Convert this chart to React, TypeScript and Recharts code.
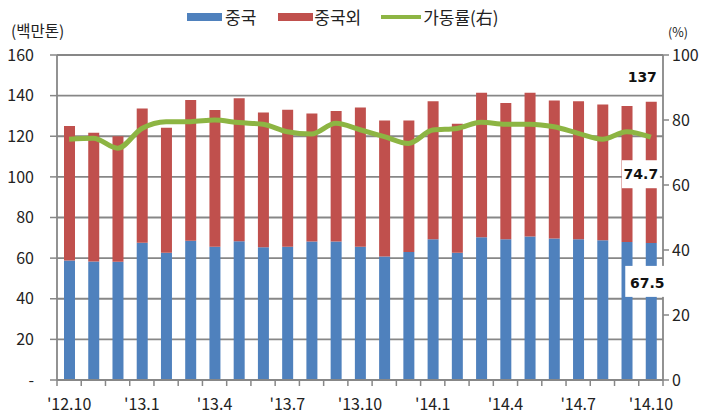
import React from 'react';
import { ComposedChart, Bar, Line, XAxis, YAxis, CartesianGrid, LabelList } from 'recharts';

const months = [
  "'12.10", "'12.11", "'12.12",
  "'13.1", "'13.2", "'13.3", "'13.4", "'13.5", "'13.6", "'13.7", "'13.8", "'13.9", "'13.10", "'13.11", "'13.12",
  "'14.1", "'14.2", "'14.3", "'14.4", "'14.5", "'14.6", "'14.7", "'14.8", "'14.9", "'14.10",
];
const china = [58.8, 58.4, 58.2, 67.6, 62.7, 68.5, 65.6, 68.3, 65.3, 65.6, 68.2, 68.2, 65.6, 60.8, 63.0, 69.3, 62.7, 70.3, 69.3, 70.6, 69.7, 69.3, 68.8, 68.0, 67.5];
const nonChina = [66.2, 63.3, 61.8, 66.1, 61.5, 69.4, 67.3, 70.4, 66.4, 67.4, 63.0, 64.2, 68.6, 66.9, 64.7, 67.9, 63.4, 71.1, 67.1, 70.8, 67.9, 67.9, 66.8, 66.9, 69.5];
const utilization = [74.1, 74.4, 71.3, 77.4, 79.5, 79.5, 80.0, 79.2, 78.7, 76.4, 75.7, 79.0, 77.0, 74.9, 72.8, 76.9, 77.4, 79.3, 78.7, 78.7, 77.9, 75.9, 74.1, 76.4, 74.7];
const leftTicks = [0, 20, 40, 60, 80, 100, 120, 140, 160];
const rightTicks = [0, 20, 40, 60, 80, 100];

const BLUE = '#4F81BD';
const RED = '#C0504D';
const GREEN = '#8DB543';
const GRAY = '#878787';
const FONT = '"Noto Sans CJK KR", "Noto Sans", sans-serif';
const LABEL_FONT = '"DejaVu Sans", sans-serif';

const data = months.map((month, i) => ({
  month,
  china: china[i],
  nonChina: nonChina[i],
  util: utilization[i],
}));
const last = data.length - 1;
const HALF_BAND = 606 / months.length / 2;

const XTick = (props: any) => {
  const { x, y, payload, index } = props;
  const axisY = y - 6;
  return (
    <g>
      <line x1={x - HALF_BAND} x2={x - HALF_BAND} y1={axisY} y2={axisY + 6} stroke={GRAY} strokeWidth={1.5} />
      {index === last && (
        <line x1={x + HALF_BAND} x2={x + HALF_BAND} y1={axisY} y2={axisY + 6} stroke={GRAY} strokeWidth={1.5} />
      )}
      {index % 3 === 0 && (
        <text x={x} y={axisY + 30} textAnchor="middle" fontSize={16} fill="#222" fontFamily={FONT}>
          {payload.value}
        </text>
      )}
    </g>
  );
};

const TotalLabel = (props: any) => {
  const { x, y, width, index } = props;
  if (index !== last) return null;
  const total = (china[index] + nonChina[index]).toFixed(0);
  const cx = x + width / 2 - 9;
  return (
    <g>
      <rect x={cx - 19} y={y - 37} width={38} height={22} fill="#fff" />
      <text x={cx} y={y - 20} textAnchor="middle" fontSize={14} fontWeight="bold" fontFamily={LABEL_FONT} fill="#111">
        {total}
      </text>
    </g>
  );
};

const ChinaLabel = (props: any) => {
  const { x, y, width, index, value } = props;
  if (index !== last) return null;
  const cx = x + width / 2 - 4;
  return (
    <g>
      <rect x={cx - 22} y={y + 23} width={44} height={31} fill="#fff" />
      <text x={cx} y={y + 45} textAnchor="middle" fontSize={14} fontWeight="bold" fontFamily={LABEL_FONT} fill="#111">
        {Number(value).toFixed(1)}
      </text>
    </g>
  );
};

const UtilLabel = (props: any) => {
  const { x, y, index, value } = props;
  if (index !== last) return null;
  const cx = x - 10;
  return (
    <g>
      <rect x={cx - 19} y={y + 23} width={38} height={28} fill="#fff" />
      <text x={cx} y={y + 42} textAnchor="middle" fontSize={14} fontWeight="bold" fontFamily={LABEL_FONT} fill="#111">
        {Number(value).toFixed(1)}
      </text>
    </g>
  );
};

export default function App() {
  return (
    <div style={{ position: 'relative', width: 706, height: 419, background: '#fff', fontFamily: FONT }}>
      <style>{'body{margin:0}'}</style>
      <div style={{ position: 'absolute', left: 187, top: 4, display: 'flex', alignItems: 'center', fontSize: 17, color: '#222', whiteSpace: 'nowrap' }}>
        <span style={{ display: 'inline-block', width: 35, height: 8, background: BLUE, marginRight: 3 }} />
        <span style={{ marginRight: 22 }}>중국</span>
        <span style={{ display: 'inline-block', width: 35, height: 8, background: RED, marginRight: 1 }} />
        <span style={{ marginRight: 20 }}>중국외</span>
        <span style={{ display: 'inline-block', width: 40, height: 4, background: GREEN, marginRight: 2 }} />
        <span>가동률(右)</span>
      </div>
      <div style={{ position: 'absolute', left: 11, top: 19, fontSize: 15.5, color: '#222' }}>(백만톤)</div>
      <div style={{ position: 'absolute', left: 668, top: 22, fontSize: 12.5, color: '#222' }}>(%)</div>
      <ComposedChart
        width={706}
        height={419}
        data={data}
        margin={{ top: 55, right: 0, bottom: 0, left: 0 }}
        barSize={11}
      >
        <CartesianGrid yAxisId="left" vertical={false} stroke={GRAY} strokeWidth={1.8} />
        <XAxis
          dataKey="month"
          interval={0}
          height={39}
          tickLine={false}
          tickSize={6}
          tickMargin={0}
          axisLine={{ stroke: GRAY, strokeWidth: 1.8 }}
          tick={<XTick />}
        />
        <YAxis
          yAxisId="left"
          width={57}
          domain={[0, 160]}
          ticks={leftTicks}
          tickFormatter={(v: number) => (v === 0 ? '-' : String(v))}
          tickSize={7}
          tickMargin={16}
          axisLine={{ stroke: GRAY, strokeWidth: 1.8 }}
          tickLine={{ stroke: GRAY, strokeWidth: 1.5 }}
          tick={{ fontSize: 16, fill: '#222', fontFamily: FONT }}
        />
        <YAxis
          yAxisId="right"
          orientation="right"
          width={43}
          domain={[0, 100]}
          ticks={rightTicks}
          tickSize={6}
          tickMargin={3}
          axisLine={{ stroke: GRAY, strokeWidth: 1.8 }}
          tickLine={{ stroke: GRAY, strokeWidth: 1.5 }}
          tick={{ fontSize: 16, fill: '#222', fontFamily: FONT, textAnchor: 'start' }}
        />
        <Bar yAxisId="left" dataKey="china" stackId="a" fill={BLUE} isAnimationActive={false}>
          <LabelList dataKey="china" content={<ChinaLabel />} />
        </Bar>
        <Bar yAxisId="left" dataKey="nonChina" stackId="a" fill={RED} isAnimationActive={false}>
          <LabelList dataKey="nonChina" content={<TotalLabel />} />
        </Bar>
        <Line
          yAxisId="right"
          dataKey="util"
          type="monotone"
          stroke={GREEN}
          strokeWidth={5}
          dot={false}
          activeDot={false}
          isAnimationActive={false}
        >
          <LabelList dataKey="util" content={<UtilLabel />} />
        </Line>
      </ComposedChart>
    </div>
  );
}
